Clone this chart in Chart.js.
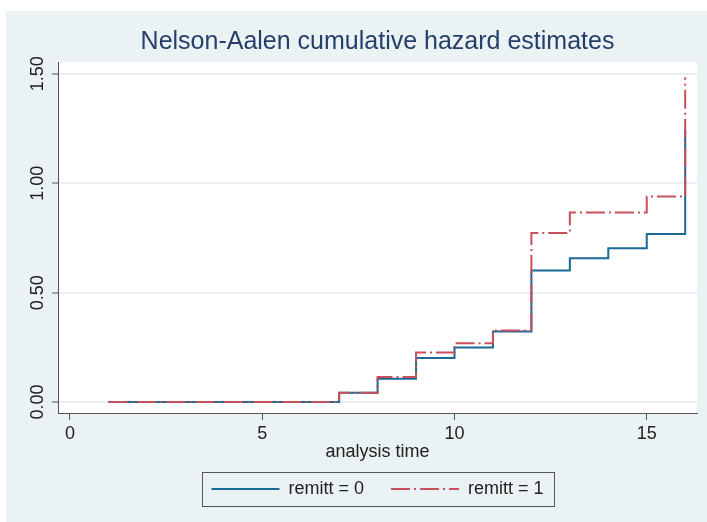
<!DOCTYPE html>
<html>
<head>
<meta charset="utf-8">
<script src="https://cdn.jsdelivr.net/npm/chart.js@4"></script>
<style>
  html, body { margin: 0; padding: 0; background: #fff; }
  #wrap { width: 707px; height: 522px; }
</style>
</head>
<body>
<div id="wrap"><canvas id="chart"></canvas></div>
<script>
// analysis times where the estimates change
const times = [1, 7, 8, 9, 10, 11, 12, 13, 14, 15, 16];
// Nelson-Aalen cumulative hazard per group
const remitt0 = [0, 0.043, 0.106, 0.201, 0.249, 0.322, 0.601, 0.657, 0.703, 0.768, 1.243];
const remitt1 = [0, 0.042, 0.114, 0.226, 0.269, 0.327, 0.773, 0.866, 0.866, 0.939, 1.484];
const seriesLabels = ["remitt = 0", "remitt = 1"];
const xTicks = [0, 5, 10, 15];
const yTicks = [0, 0.5, 1, 1.5];

const FONT = "'Liberation Sans', Arial, sans-serif";
const toPoints = vals => times.map((t, i) => ({ x: t, y: vals[i] }));

// stata-ish backdrop: grey frame and white plot region
const backdrop = {
    id: "backdrop",
    beforeDraw(chart) {
        const { ctx, chartArea: a } = chart;
        ctx.save();
        ctx.fillStyle = "#ffffff";
        ctx.fillRect(0, 0, chart.width, chart.height);
        ctx.fillStyle = "#eaf2f3";
        ctx.fillRect(6, 11, chart.width - 6, chart.height - 11);
        ctx.fillStyle = "#ffffff";
        ctx.fillRect(a.left, a.top, a.right - a.left, a.bottom - a.top);
        ctx.restore();
    },
    afterDraw(chart) {
        // frame round the legend
        const hb = chart.legend.legendHitBoxes;
        if (!hb || !hb.length) return;
        const first = hb[0], last = hb[hb.length - 1];
        const cy = first.top + first.height / 2;
        const ctx = chart.ctx;
        ctx.save();
        ctx.strokeStyle = "#555555";
        ctx.lineWidth = 1;
        ctx.strokeRect(Math.round(first.left - 9) + 0.5, Math.round(cy - 17) + 0.5,
            Math.round(last.left + last.width + 11 - first.left + 9), 34);
        ctx.restore();
    }
};

new Chart(document.getElementById("chart"), {
    type: "line",
    data: {
        datasets: [
            {
                label: seriesLabels[0],
                data: toPoints(remitt0),
                borderColor: "#1a6a97",
                borderWidth: 2,
                stepped: true,
                pointRadius: 0,
                fill: false,
                order: 1
            },
            {
                label: seriesLabels[1],
                data: toPoints(remitt1),
                borderColor: "#c8505c",
                borderWidth: 2,
                borderDash: [19, 4, 2, 4],
                stepped: true,
                pointRadius: 0,
                fill: false,
                order: 0
            }
        ]
    },
    options: {
        responsive: true,
        maintainAspectRatio: false,
        animation: false,
        layout: { padding: { left: 0, right: 10, top: 0, bottom: 14 } },
        plugins: {
            title: {
                display: true,
                text: "Nelson-Aalen cumulative hazard estimates",
                color: "#253f6a",
                font: { family: FONT, size: 25, weight: "normal" },
                padding: { top: 27, bottom: 5 },
                fullSize: false
            },
            legend: {
                position: "bottom",
                fullSize: false,
                labels: {
                    usePointStyle: true,
                    pointStyle: "line",
                    pointStyleWidth: 68,
                    padding: 27,
                    color: "#222222",
                    font: { family: FONT, size: 18 },
                    sort: (a, b) => a.datasetIndex - b.datasetIndex,
                    generateLabels(chart) {
                        const base = Chart.defaults.plugins.legend.labels.generateLabels(chart);
                        return base.map(item => {
                            const ds = chart.data.datasets[item.datasetIndex];
                            return {
                                ...item,
                                strokeStyle: ds.borderColor,
                                lineWidth: ds.borderWidth,
                                lineDash: ds.borderDash || []
                            };
                        });
                    }
                }
            },
            tooltip: { enabled: false }
        },
        scales: {
            x: {
                type: "linear",
                min: -0.312,
                max: 16.307,
                afterBuildTicks: s => { s.ticks = xTicks.map(v => ({ value: v })); },
                afterFit: s => { s.height = 40; s.paddingLeft = 0; s.paddingRight = 0; },
                border: { color: "#555555", width: 1 },
                grid: { drawOnChartArea: false, drawTicks: true, tickLength: 7, tickColor: "#555555", tickWidth: 1 },
                ticks: { color: "#222222", font: { family: FONT, size: 18 }, padding: 3, maxRotation: 0 },
                title: {
                    display: true,
                    text: "analysis time",
                    color: "#222222",
                    font: { family: FONT, size: 18 },
                    padding: { top: 0, bottom: -10 }
                }
            },
            y: {
                min: -0.05,
                max: 1.554,
                afterBuildTicks: s => { s.ticks = yTicks.map(v => ({ value: v })); },
                afterFit: s => { s.width = 58; s.paddingTop = 0; s.paddingBottom = 0; },
                border: { color: "#555555", width: 1 },
                grid: { color: "#eaf0f2", lineWidth: 2, tickLength: 6, tickColor: "#555555", tickWidth: 1 },
                ticks: {
                    color: "#222222",
                    font: { family: FONT, size: 18 },
                    minRotation: 90,
                    maxRotation: 90,
                    crossAlign: "center",
                    padding: -4,
                    callback: v => v.toFixed(2)
                }
            }
        }
    },
    plugins: [backdrop]
});
</script>
</body>
</html>
